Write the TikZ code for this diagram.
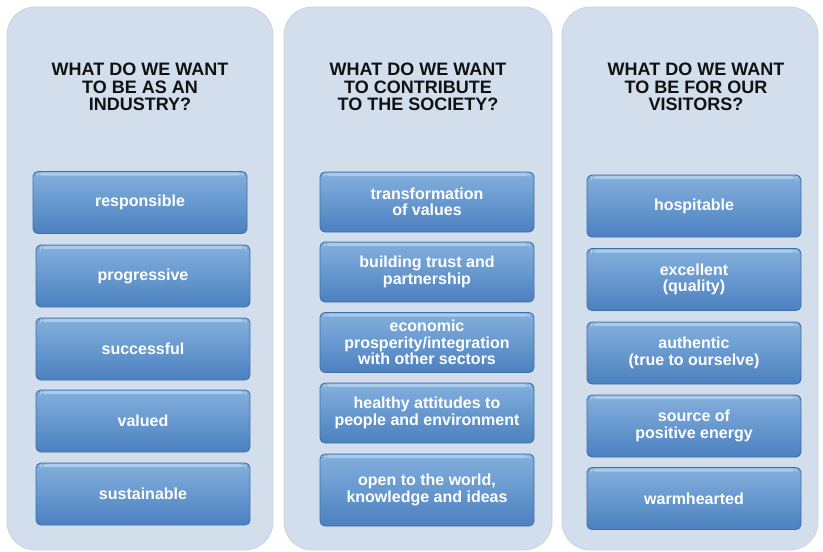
\documentclass[tikz,border=0pt]{standalone}
\usepackage{fontspec}
\setmainfont{Liberation Sans}
\usetikzlibrary{calc}

\definecolor{panelfill}{HTML}{D3DEED}
\definecolor{panelline}{HTML}{C7D4E6}
\definecolor{boxtop}{HTML}{84AFDC}
\definecolor{boxmid}{HTML}{6799CF}
\definecolor{boxbot}{HTML}{4C80BF}
\definecolor{boxline}{HTML}{3F6EA8}
\definecolor{boxglow}{HTML}{AACCEC}
\definecolor{headtext}{HTML}{111111}

\tikzset{
  panel/.style={draw=panelline, line width=0.8pt, fill=panelfill,
    rounded corners=28pt, inner sep=0pt},
  heading/.style={align=center, inner sep=0pt, text=headtext,
    font=\fontsize{18}{17.5}\selectfont\bfseries},
  itembox/.style={draw=boxline, line width=0.9pt, rounded corners=5pt,
    top color=boxtop, bottom color=boxbot, middle color=boxmid,
    minimum width=214pt, minimum height=62pt, inner sep=0pt,
    align=center, text=white,
    font=\fontsize{16}{16.5}\selectfont\bfseries,
    path picture={
      \fill[boxglow]
        ($(path picture bounding box.north west)+(4pt,-1.2pt)$) rectangle
        ($(path picture bounding box.north east)+(-4pt,-4.2pt)$);
    }},
}

\begin{document}
\begin{tikzpicture}[x=1pt, y=-1pt]
  \useasboundingbox (0,0) rectangle (823,552);

  % three column panels
  \node[panel, minimum width=266pt, minimum height=543pt] (p1) at (140,278.5) {};
  \node[panel, minimum width=268pt, minimum height=543pt] (p2) at (418,278.5) {};
  \node[panel, minimum width=256pt, minimum height=543pt] (p3) at (690,278.5) {};

  % column headings
  \node[heading] (h1) at (140,87) {WHAT DO WE WANT\\TO BE AS AN\\INDUSTRY?};
  \node[heading] (h2) at (418,87) {WHAT DO WE WANT\\TO CONTRIBUTE\\TO THE SOCIETY?};
  \node[heading] (h3) at (696,87) {WHAT DO WE WANT\\TO BE FOR OUR\\VISITORS?};

  % industry
  \node[itembox] (a1) at (140,202.5) {responsible};
  \node[itembox] (a2) at (143,276) {progressive};
  \node[itembox] (a3) at (143,349) {successful};
  \node[itembox] (a4) at (143,421) {valued};
  \node[itembox] (a5) at (143,494) {sustainable};

  % society
  \node[itembox, minimum height=60pt] (b1) at (427,202) {transformation\\of values};
  \node[itembox, minimum height=60pt] (b2) at (427,272) {building trust and\\partnership};
  \node[itembox, minimum height=60pt] (b3) at (427,342.5) {economic\\prosperity/integration\\with other sectors};
  \node[itembox, minimum height=60pt] (b4) at (427,413) {healthy attitudes to\\people and environment};
  \node[itembox, minimum height=72pt] (b5) at (427,490) {open to the world,\\knowledge and ideas};

  % visitors
  \node[itembox] (c1) at (694,206) {hospitable};
  \node[itembox] (c2) at (694,279.5) {excellent\\(quality)};
  \node[itembox] (c3) at (694,353) {authentic\\(true to ourselve)};
  \node[itembox] (c4) at (694,426) {source of\\positive energy};
  \node[itembox] (c5) at (694,498.5) {warmhearted};
\end{tikzpicture}
\end{document}
